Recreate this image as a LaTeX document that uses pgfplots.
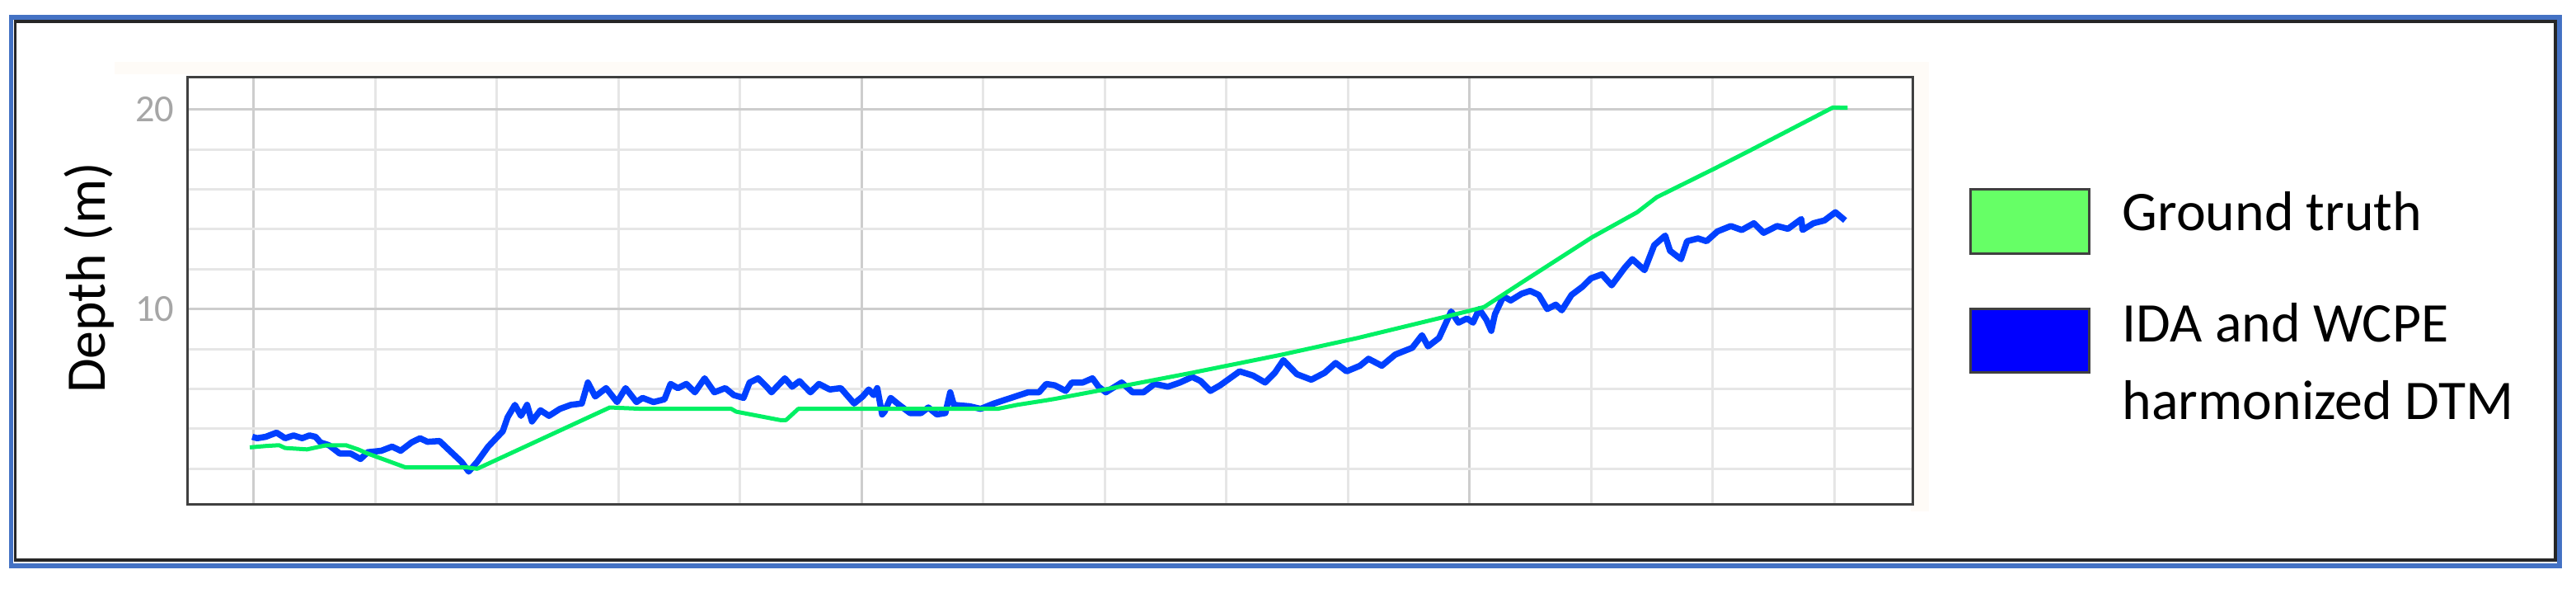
\documentclass[border=0pt]{standalone}
\usepackage{fontspec}
\setmainfont{Carlito}
\usepackage{pgfplots}
\pgfplotsset{compat=1.18}

\definecolor{outerblue}{HTML}{4472C4}
\definecolor{truthgreen}{RGB}{0,240,100}
\definecolor{dtmblue}{RGB}{0,64,255}
\definecolor{boxgreen}{RGB}{102,255,102}
\definecolor{boxblue}{RGB}{0,0,255}
\definecolor{gridmajor}{RGB}{205,205,205}
\definecolor{gridminor}{RGB}{230,230,230}
\definecolor{tickgray}{RGB}{166,166,166}
\definecolor{framegray}{RGB}{64,64,64}
\definecolor{paper}{RGB}{254,251,247}

\newcommand\bigfont{\fontsize{19.3}{23}\selectfont}

\begin{document}
\begin{tikzpicture}
\useasboundingbox (0,0) rectangle (31.25,7.24);
\fill[white] (0,0) rectangle (31.25,7.24);
% outer frames
\draw[outerblue, line width=0.055cm] (0.135,0.38) rectangle (31.05,7.03);
\draw[black!85, line width=0.04cm] (0.185,0.45) rectangle (30.995,6.98);
% faint edge of the pasted plot image
\fill[paper] (1.39,6.34) rectangle (23.40,6.49);
\fill[paper] (23.18,1.04) rectangle (23.40,6.49);

\begin{axis}[
    at={(2.27cm,1.13cm)}, anchor=south west,
    scale only axis,
    width=20.935cm, height=5.18cm,
    xmin=-0.546, xmax=13.647,
    ymin=0.236, ymax=21.64,
    axis background/.style={fill=white},
    axis line style={draw=framegray, line width=0.03cm},
    xtick={0,5,10},
    minor xtick={1,2,3,4,6,7,8,9,11,12,13},
    xticklabels={},
    ytick={10,20},
    minor ytick={2,4,6,8,12,14,16,18},
    grid=both,
    major grid style={draw=gridmajor, line width=0.03cm},
    minor grid style={draw=gridminor, line width=0.03cm},
    tick style={draw=none},
    major tick length=0pt, minor tick length=0pt,
    /pgf/number format/assume math mode=true,
    yticklabel style={font=\fontsize{13.2}{16}\selectfont, text=tickgray,
        inner sep=0pt, xshift=-0.15cm},
]
% IDA and WCPE harmonized DTM
\addplot[dtmblue, line width=0.075cm, line join=round] table {
x y
-0.01 3.6
0.03 3.53
0.10 3.6
0.19 3.81
0.26 3.53
0.33 3.67
0.40 3.53
0.46 3.67
0.51 3.6
0.55 3.32
0.62 3.18
0.71 2.76
0.80 2.76
0.88 2.49
0.94 2.83
1.05 2.9
1.14 3.11
1.21 2.9
1.30 3.32
1.37 3.53
1.43 3.35
1.53 3.39
1.59 3.04
1.71 2.35
1.77 1.86
1.84 2.35
1.93 3.11
2.05 3.88
2.09 4.58
2.15 5.2
2.20 4.65
2.25 5.2
2.29 4.37
2.36 4.93
2.43 4.65
2.52 5.0
2.61 5.2
2.70 5.27
2.75 6.32
2.81 5.62
2.90 6.04
2.99 5.34
3.06 6.04
3.15 5.34
3.20 5.55
3.29 5.34
3.38 5.48
3.43 6.25
3.49 6.04
3.56 6.25
3.63 5.83
3.71 6.53
3.79 5.83
3.88 6.04
3.95 5.69
4.03 5.55
4.08 6.32
4.15 6.53
4.22 6.11
4.26 5.83
4.37 6.53
4.43 6.11
4.49 6.39
4.58 5.83
4.65 6.25
4.74 5.97
4.83 6.04
4.94 5.27
5.01 5.62
5.06 5.97
5.10 5.69
5.13 6.04
5.17 4.72
5.19 4.86
5.24 5.55
5.31 5.2
5.40 4.79
5.49 4.79
5.55 5.07
5.62 4.72
5.69 4.79
5.73 5.83
5.76 5.2
5.89 5.13
5.98 5.0
6.09 5.27
6.23 5.55
6.37 5.83
6.46 5.83
6.52 6.25
6.59 6.18
6.68 5.9
6.73 6.32
6.82 6.32
6.90 6.53
6.95 6.11
7.01 5.83
7.14 6.32
7.23 5.83
7.32 5.83
7.41 6.25
7.52 6.11
7.62 6.32
7.72 6.6
7.79 6.39
7.87 5.9
7.95 6.18
8.11 6.88
8.22 6.67
8.32 6.32
8.40 6.81
8.47 7.44
8.58 6.74
8.70 6.46
8.81 6.81
8.90 7.3
8.99 6.88
9.10 7.16
9.17 7.51
9.28 7.16
9.39 7.72
9.53 8.06
9.61 8.69
9.66 8.13
9.75 8.55
9.85 9.88
9.91 9.32
9.98 9.53
10.03 9.32
10.08 10.0
10.14 9.46
10.18 8.91
10.21 9.74
10.28 10.64
10.34 10.43
10.43 10.77
10.50 10.91
10.57 10.71
10.64 10.0
10.71 10.22
10.76 9.94
10.84 10.71
10.93 11.12
11.00 11.54
11.09 11.74
11.17 11.19
11.28 12.09
11.34 12.5
11.44 11.95
11.52 13.2
11.61 13.68
11.65 12.92
11.74 12.5
11.79 13.4
11.88 13.54
11.95 13.4
12.04 13.89
12.15 14.16
12.24 13.96
12.34 14.3
12.42 13.82
12.53 14.16
12.62 14.02
12.73 14.51
12.74 13.96
12.83 14.3
12.92 14.44
13.01 14.85
13.09 14.44
};
% Ground truth
\addplot[truthgreen, line width=0.05cm, line join=round] table {
x y
-0.03 3.07
0.10 3.14
0.21 3.18
0.26 3.04
0.44 2.97
0.60 3.18
0.76 3.18
0.86 2.97
0.94 2.76
1.25 2.07
1.75 2.07
1.84 2.0
2.93 5.07
3.20 5.0
3.93 5.0
3.97 4.86
4.15 4.65
4.33 4.44
4.38 4.44
4.48 5.0
6.12 5.0
6.28 5.2
6.50 5.41
6.59 5.5
7.00 5.97
7.72 6.81
8.46 7.72
9.08 8.55
9.98 9.88
10.12 10.1
10.43 11.33
11.01 13.6
11.38 14.85
11.54 15.6
12.02 17.05
12.31 17.95
12.99 20.1
13.11 20.08
};
\end{axis}

% y label
\node[rotate=90, font=\bigfont] at (1.085,3.87) {Depth (m)};

% legend
\draw[framegray, line width=0.03cm, fill=boxgreen] (23.905,4.162) rectangle (25.34,4.946);
\draw[framegray, line width=0.03cm, fill=boxblue] (23.905,2.722) rectangle (25.34,3.497);
\node[anchor=base west, inner sep=0pt, font=\bigfont] at (25.74,4.44) {Ground truth};
\node[anchor=base west, inner sep=0pt, font=\bigfont] at (25.74,3.09) {IDA and WCPE};
\node[anchor=base west, inner sep=0pt, font=\bigfont] at (25.74,2.16) {harmonized DTM};
\end{tikzpicture}
\end{document}
